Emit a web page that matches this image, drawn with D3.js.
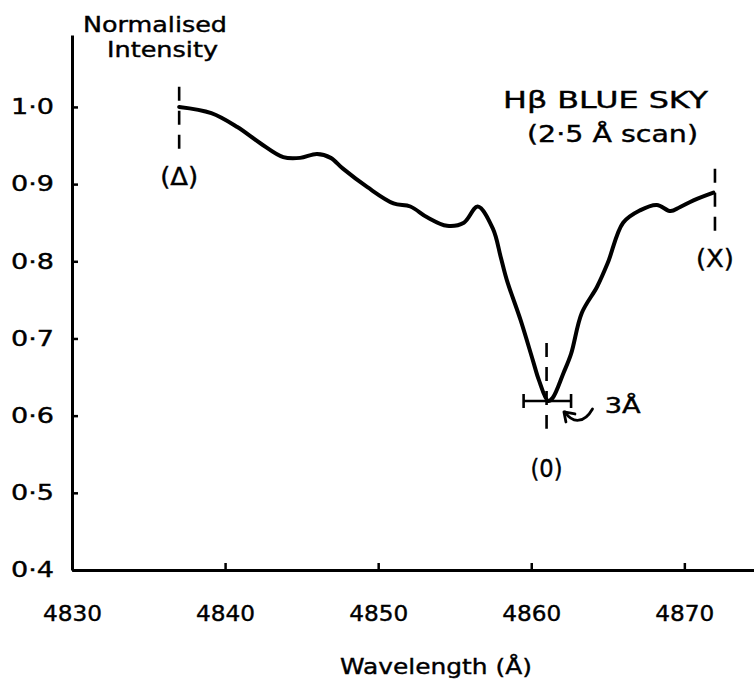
<!DOCTYPE html>
<html><head><meta charset="utf-8">
<script src="https://cdn.jsdelivr.net/npm/d3@7"></script>
<style>
body{margin:0;background:#fff}
svg{display:block}
text{font-family:"DejaVu Sans",sans-serif;fill:#000;stroke:#000;stroke-width:0.4px}
</style>
</head><body>
<svg id="c" width="754" height="686"></svg>
<script>
// ---- data ----
const wavelength = [4837.0,4839.1,4840.8,4842.3,4843.8,4844.9,4846.0,4846.9,4847.7,4849.3,4851.0,4852.1,4853.2,4854.5,4855.6,4856.5,4857.5,4858.0,4858.4,4859.3,4860.1,4860.5,4861.1,4861.4,4862.1,4862.6,4863.3,4864.3,4865.0,4866.0,4867.1,4868.2,4869.1,4869.7,4870.6,4871.9];
const intensity  = [1.000,0.992,0.974,0.953,0.935,0.934,0.939,0.934,0.920,0.896,0.875,0.871,0.857,0.846,0.850,0.871,0.842,0.806,0.776,0.724,0.672,0.646,0.619,0.623,0.655,0.680,0.733,0.767,0.798,0.850,0.866,0.873,0.865,0.870,0.879,0.889];
const xTicks = [4830,4840,4850,4860,4870];
const yTicks = [0.4,0.5,0.6,0.7,0.8,0.9,1.0];
const markerLabels = ["(Δ)","(0)","(X)"];
const markerAt     = [4837,4861,4872];
const resolution   = [4859.5,4862.6];   // 3 Å bar
const titleLines = ["Hβ BLUE SKY","(2·5 Å scan)"];
const yTitle = ["Normalised","Intensity"];
const xTitle = "Wavelength (Å)";

// ---- chart ----
const svg = d3.select("#c");
const x = d3.scaleLinear().domain([4830,4874.55]).range([72,754]);
const y = d3.scaleLinear().domain([0.4,1.0932]).range([570,35]);

const fmt = d => d3.format(".1f")(d).replace(".","·");

const yAx = svg.append("g").attr("transform",`translate(${x(4830)},0)`)
  .call(d3.axisLeft(y).tickValues(yTicks).tickSizeInner(-6).tickSizeOuter(0).tickPadding(18).tickFormat(fmt));
yAx.select(".domain").attr("stroke","#000").attr("stroke-width",3);
yAx.selectAll(".tick line").attr("stroke","#000").attr("stroke-width",2.5);
yAx.selectAll(".tick text").attr("font-size",21).attr("font-family","DejaVu Sans")
   .attr("textLength",43).attr("lengthAdjust","spacingAndGlyphs").attr("fill","#000");

const xAx = svg.append("g").attr("transform",`translate(0,${y(0.4)})`)
  .call(d3.axisBottom(x).tickValues(xTicks).tickSizeInner(-7).tickSizeOuter(0).tickPadding(35).tickFormat(d3.format("d")));
xAx.select(".domain").attr("stroke","#000").attr("stroke-width",3);
xAx.selectAll(".tick line").attr("stroke","#000").attr("stroke-width",2.5);
xAx.selectAll(".tick text").attr("font-size",22).attr("font-family","DejaVu Sans")
   .attr("textLength",59).attr("lengthAdjust","spacingAndGlyphs").attr("fill","#000");

// curve
const pts = wavelength.map((w,i)=>[w,intensity[i]]);
svg.append("path").datum(pts)
  .attr("fill","none").attr("stroke","#000").attr("stroke-width",4)
  .attr("stroke-linejoin","round").attr("stroke-linecap","round")
  .attr("d", d3.line().x(d=>x(d[0])).y(d=>y(d[1])).curve(d3.curveCatmullRom.alpha(0.5)));

// dashed marker lines
const markerSpan = [[1.026,0.935],[0.694,0.583],[0.920,0.835]];
markerAt.forEach((w,i)=>{
  svg.append("line").attr("x1",x(w)).attr("x2",x(w))
    .attr("y1",y(markerSpan[i][0])).attr("y2",y(markerSpan[i][1]))
    .attr("stroke","#000").attr("stroke-width",2.6).attr("stroke-dasharray","14,10");
});
const markerY = [185,477,267];
markerAt.forEach((w,i)=>{
  svg.append("text").attr("x",x(w)).attr("y",markerY[i]).attr("text-anchor","middle")
    .attr("font-size",25).attr("textLength",i===1?32:38).attr("lengthAdjust","spacingAndGlyphs")
    .text(markerLabels[i]);
});

// resolution bar
const yb = y(0.619);
svg.append("line").attr("x1",x(resolution[0])).attr("x2",x(resolution[1])).attr("y1",yb).attr("y2",yb)
  .attr("stroke","#000").attr("stroke-width",2.6);
resolution.forEach(w=>svg.append("line").attr("x1",x(w)).attr("x2",x(w)).attr("y1",yb-7).attr("y2",yb+7)
  .attr("stroke","#000").attr("stroke-width",2.6));

// arrow to bar
const ax0 = x(4864.0), ay0 = yb+8;
const ax1 = x(4862.2), ay1 = yb+11;
svg.append("path")
  .attr("d",`M${ax0},${ay0} C${ax0-8},${ay0+14} ${ax1+8},${ay1+12} ${ax1},${ay1}`)
  .attr("fill","none").attr("stroke","#000").attr("stroke-width",2.8).attr("stroke-linecap","round");
svg.append("path")
  .attr("d",`M${ax1+1},${ay1+10} L${ax1-1},${ay1} L${ax1+10},${ay1+2}`)
  .attr("fill","none").attr("stroke","#000").attr("stroke-width",2.8).attr("stroke-linecap","round").attr("stroke-linejoin","round");
svg.append("text").attr("x",x(4864.8)).attr("y",yb+12).attr("font-size",21)
  .attr("textLength",36).attr("lengthAdjust","spacingAndGlyphs").text("3Å");

// titles
svg.append("text").attr("x",503).attr("y",108).attr("font-size",23)
  .attr("textLength",205).attr("lengthAdjust","spacingAndGlyphs").text(titleLines[0]);
svg.append("text").attr("x",527).attr("y",142).attr("font-size",23)
  .attr("textLength",171).attr("lengthAdjust","spacingAndGlyphs").text(titleLines[1]);

svg.append("text").attr("x",83).attr("y",32).attr("font-size",21)
  .attr("textLength",144).attr("lengthAdjust","spacingAndGlyphs").text(yTitle[0]);
svg.append("text").attr("x",107).attr("y",57).attr("font-size",21)
  .attr("textLength",111).attr("lengthAdjust","spacingAndGlyphs").text(yTitle[1]);

svg.append("text").attr("x",340).attr("y",674).attr("font-size",22)
  .attr("textLength",192).attr("lengthAdjust","spacingAndGlyphs").text(xTitle);
</script>
</body></html>
